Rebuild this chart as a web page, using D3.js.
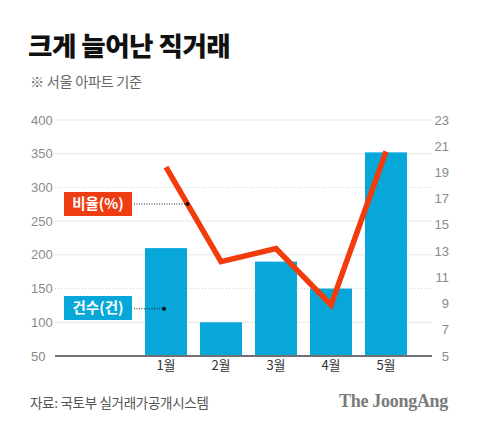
<!DOCTYPE html>
<html><head><meta charset="utf-8">
<script src="https://cdn.jsdelivr.net/npm/d3@7"></script>
<style>
html,body{margin:0;padding:0;background:#fff;}
svg{display:block;}
</style></head>
<body>
<svg id="chart" width="480" height="428"></svg>
<script>
const months = ["1월","2월","3월","4월","5월"];
const counts = [210, 100, 190, 150, 352];
const ratios = [19.4, 12.2, 13.2, 8.9, 20.6];
const leftTicks = [50,100,150,200,250,300,350,400];
const rightTicks = [5,7,9,11,13,15,17,19,21,23];
const dottedGrid = [150,300];

const svg = d3.select("#chart");
const KR = "'Noto Sans CJK KR', 'Noto Sans', sans-serif";
const NUM = "'Liberation Sans', Arial, sans-serif";

const x = d3.scaleBand().domain(months).range([138.5, 413.5]).paddingInner(0.236).paddingOuter(0.118);
const yL = d3.scaleLinear().domain([50,400]).range([356,120]);
const yR = d3.scaleLinear().domain([5,23]).range([356,120]);
const plotL = 55, plotR = 432;

// title
svg.append("text").attr("x",28).attr("y",56).text("크게 늘어난 직거래")
  .attr("font-family",KR).attr("font-weight",900).attr("font-size",26.5)
  .attr("letter-spacing",-0.5).attr("fill","#111");
svg.append("text").attr("x",30).attr("y",87).text("※ 서울 아파트 기준")
  .attr("font-family",KR).attr("font-size",14.2).attr("letter-spacing",-0.3).attr("fill","#666");

// gridlines
svg.append("g").selectAll("line").data(leftTicks.filter(d=>d!==50)).join("line")
  .attr("x1",plotL).attr("x2",plotR).attr("y1",d=>yL(d)).attr("y2",d=>yL(d))
  .attr("stroke",d=>dottedGrid.includes(d)?"#cfcfcf":"#e6e6e6")
  .attr("stroke-width",1)
  .attr("stroke-dasharray",d=>dottedGrid.includes(d)?"1,2":null);

// left axis labels
svg.append("g").selectAll("text").data(leftTicks).join("text")
  .attr("x",31).attr("y",d=>yL(d)).attr("dy","0.35em").text(d=>d)
  .attr("font-family",NUM).attr("font-size",13).attr("fill","#8a8a8a");
// right axis labels
svg.append("g").selectAll("text").data(rightTicks).join("text")
  .attr("x",449).attr("y",d=>yR(d)).attr("dy","0.35em").attr("text-anchor","end").text(d=>d)
  .attr("font-family",NUM).attr("font-size",13).attr("fill","#8a8a8a");

// bars
svg.append("g").selectAll("rect").data(months).join("rect")
  .attr("x",d=>x(d)).attr("width",x.bandwidth())
  .attr("y",(d,i)=>yL(counts[i])).attr("height",(d,i)=>yL(50)-yL(counts[i]))
  .attr("fill","#07a8d9");

// baseline
svg.append("line").attr("x1",plotL).attr("x2",plotR).attr("y1",yL(50)).attr("y2",yL(50))
  .attr("stroke","#707070").attr("stroke-width",2);

// month labels
svg.append("g").selectAll("text").data(months).join("text")
  .attr("x",d=>x(d)+x.bandwidth()/2).attr("y",370).attr("text-anchor","middle").text(d=>d)
  .attr("font-family",KR).attr("font-size",13).attr("fill","#333");

// ratio line
const cx = d => x(d)+x.bandwidth()/2;
const line = d3.line().x(d=>cx(d)).y((d,i)=>yR(ratios[i]));
svg.append("path").datum(months).attr("d",line)
  .attr("fill","none").attr("stroke","#f23c0c").attr("stroke-width",5.5)
  .attr("stroke-linejoin","miter").attr("stroke-linecap","butt");

// legend labels
const t = 0.39;
const rDotX = cx(months[0]) + t*(cx(months[1])-cx(months[0]));
const rDotY = yR(ratios[0]) + t*(yR(ratios[1])-yR(ratios[0]));
const cDotX = cx(months[0]) - 2;
const cDotY = yL(120);

function legend(y, label, color, dx, dy){
  svg.append("rect").attr("x",64).attr("y",y).attr("width",68).attr("height",24).attr("fill",color);
  svg.append("text").attr("x",98).attr("y",y+12).attr("dy","0.36em").attr("text-anchor","middle")
    .text(label).attr("font-family",KR).attr("font-weight",700).attr("font-size",14.5).attr("fill","#fff");
  svg.append("line").attr("x1",134).attr("x2",dx).attr("y1",dy).attr("y2",dy)
    .attr("stroke","#222").attr("stroke-width",1).attr("stroke-dasharray","1,1.5");
  svg.append("circle").attr("cx",dx).attr("cy",dy).attr("r",2).attr("fill","#111");
}
legend(192, "비율(%)", "#ee3d12", rDotX, rDotY);
legend(296, "건수(건)", "#07a8d9", cDotX, cDotY);

// footer
svg.append("text").attr("x",30).attr("y",408).text("자료: 국토부 실거래가공개시스템")
  .attr("font-family",KR).attr("font-size",13.5).attr("letter-spacing",-0.3).attr("fill","#555");
svg.append("text").attr("x",448).attr("y",407).attr("text-anchor","end").text("The JoongAng")
  .attr("font-family","'Liberation Serif', 'DejaVu Serif', serif").attr("font-weight",700)
  .attr("font-size",18).attr("letter-spacing",-0.3).attr("fill","#7a7a7a");
</script>
</body></html>
